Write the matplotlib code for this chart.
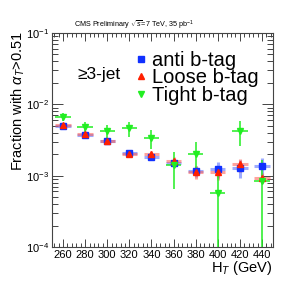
import matplotlib
matplotlib.use("Agg")
import matplotlib.pyplot as plt
from matplotlib.lines import Line2D
from matplotlib.ticker import MultipleLocator, LogLocator, NullFormatter

plt.rcParams['font.family'] = ['Liberation Sans', 'DejaVu Sans']
plt.rcParams['mathtext.fontset'] = 'custom'
plt.rcParams['mathtext.rm'] = 'Liberation Sans'
plt.rcParams['mathtext.it'] = 'Liberation Sans:italic'

# H_T bin centres (GeV)
ht = [260, 280, 300, 320, 340, 360, 380, 400, 420, 440]

anti = [5.0e-3, 3.66e-3, 3.06e-3, 2.1e-3, 1.85e-3, 1.52e-3, 1.17e-3, 1.24e-3, 1.29e-3, 1.37e-3]
anti_err = [0.25e-3, 0.2e-3, 0.15e-3, 0.12e-3, 0.15e-3, 0.2e-3, 0.2e-3, 0.3e-3, 0.35e-3, 0.4e-3]

loose = [5.13e-3, 3.8e-3, 3.06e-3, 2.01e-3, 2.04e-3, 1.6e-3, 1.13e-3, 1.11e-3, 1.44e-3, 0.94e-3]
loose_err = [0.25e-3, 0.2e-3, 0.15e-3, 0.12e-3, 0.15e-3, 0.2e-3, 0.22e-3, 0.25e-3, 0.3e-3, 0.15e-3]

tight = [6.7e-3, 4.86e-3, 4.27e-3, 4.6e-3, 3.34e-3, 1.41e-3, 2.04e-3, 0.58e-3, 4.23e-3, 0.84e-3]
tight_err = [0.8e-3, 0.8e-3, 0.9e-3, 1.1e-3, 1.0e-3, 0.75e-3, 0.95e-3, 0.55e-3, 1.6e-3, 0.84e-3]

labels = ['anti b-tag', 'Loose b-tag', 'Tight b-tag']

blue = '#1030ff'
red = '#ff2000'
green = '#22ee22'

fig = plt.figure(figsize=(2.93, 2.89), dpi=100)
ax = fig.add_axes([52/293, 1-247/289, 221/293, 214/289])
ax.set_yscale('log', nonpositive='clip')

ax.errorbar(ht, anti, yerr=anti_err, xerr=7, fmt='s', color=blue, ms=4,
            ecolor=(0.3, 0.4, 1.0, 0.55), elinewidth=2.2, capsize=0)
ax.errorbar(ht, loose, yerr=loose_err, xerr=7, fmt='^', color=red, ms=4,
            ecolor=(1.0, 0.35, 0.3, 0.55), elinewidth=2.2, capsize=0)
ax.errorbar(ht, tight, yerr=tight_err, xerr=7, fmt='v', color=green, ms=4,
            ecolor=green, elinewidth=1.1, capsize=0)

ax.set_xlim(250, 450)
ax.set_ylim(1e-4, 1e-1)
ax.xaxis.set_major_locator(MultipleLocator(20))
ax.xaxis.set_minor_locator(MultipleLocator(4))
ax.yaxis.set_major_locator(LogLocator(base=10))
ax.yaxis.set_minor_locator(LogLocator(base=10, subs=range(2, 10)))
ax.yaxis.set_minor_formatter(NullFormatter())
ax.tick_params(which='both', direction='in', top=True, right=True,
               width=0.7, color='#444444', pad=2)
ax.tick_params(axis='x', labelsize=8)
ax.tick_params(axis='y', labelsize=8)
ax.tick_params(axis='y', which='major', length=8)
ax.tick_params(axis='y', which='minor', length=4)
ax.tick_params(axis='x', which='major', length=6)
ax.tick_params(axis='x', which='minor', length=3)
for s in ax.spines.values():
    s.set_linewidth(0.8)
    s.set_color('#444444')

fig.text(18/293, 1-31/289, r'Fraction with $\alpha_{T}$>0.51', rotation=90,
         ha='center', va='top', fontsize=10.5)
fig.text(273/293, 1-268/289, r'H$_{T}$ (GeV)', ha='right', va='center', fontsize=10.5)
fig.text(134/293, 1-25/289, r'CMS Preliminary $\sqrt{s}$=7 TeV, 35 pb$^{-1}$',
         ha='center', va='center', fontsize=5.2)
fig.text(77/293, 1-75/289, '\u22653-jet', ha='left', va='center', fontsize=12.5)

handles = [Line2D([], [], ls='none', marker='s', color=blue, ms=4),
           Line2D([], [], ls='none', marker='^', color=red, ms=4),
           Line2D([], [], ls='none', marker='v', color=green, ms=4)]
ax.legend(handles, labels, loc='upper left', bbox_to_anchor=(135/293, 1-51/289),
          bbox_transform=fig.transFigure, frameon=False, fontsize=14.5,
          handlelength=0.58, handletextpad=0.26, labelspacing=-0.08,
          borderpad=0, borderaxespad=0)

fig.savefig('out.png', dpi=100)
